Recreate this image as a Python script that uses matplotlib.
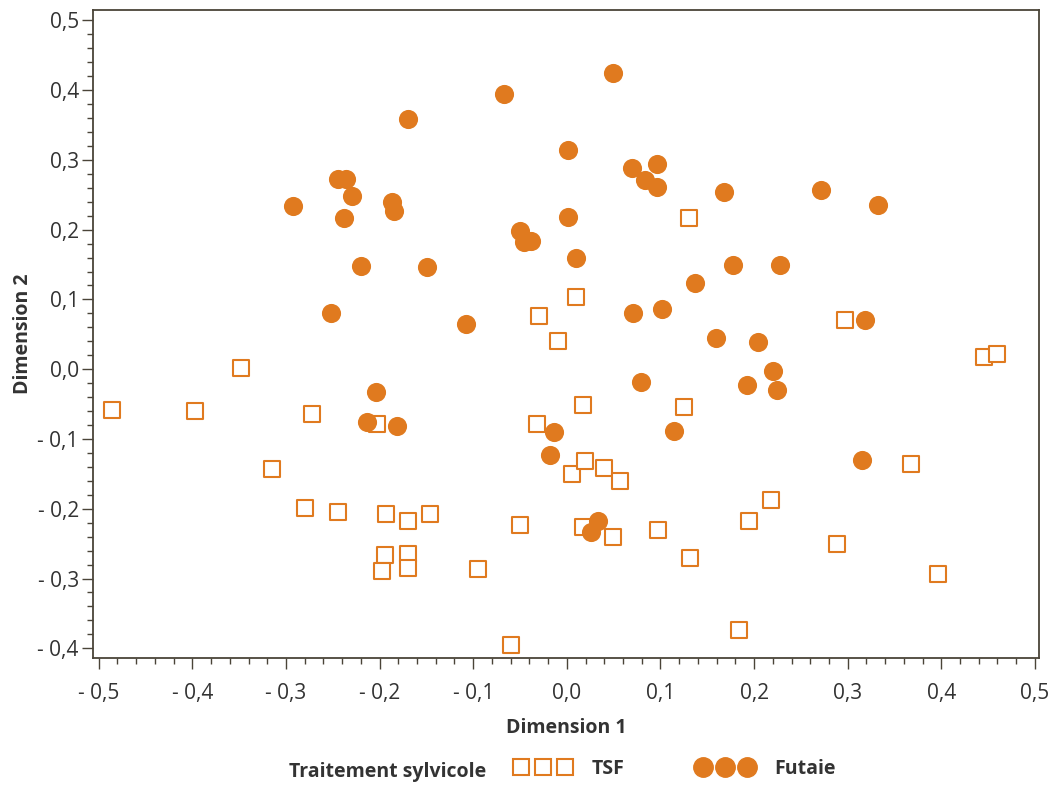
import matplotlib
matplotlib.use("Agg")
import matplotlib.pyplot as plt
from matplotlib.lines import Line2D
from matplotlib.ticker import MultipleLocator, FuncFormatter

# Futaie (filled circles)
futaie_x = [0.049, -0.067, -0.170, 0.001, 0.070, 0.096, 0.084, 0.096, 0.168, 0.272, 0.332,
            -0.244, -0.236, -0.229, -0.293, -0.187, -0.185, -0.238, 0.001, -0.050, -0.046,
            -0.038, 0.010, -0.220, -0.149, 0.178, 0.228, 0.137, -0.252, -0.108, 0.071, 0.102,
            0.318, 0.159, 0.204, -0.204, 0.079, 0.192, 0.220, 0.224, -0.213, -0.181, -0.014,
            -0.018, 0.114, 0.315, 0.033, 0.026]
futaie_y = [0.424, 0.394, 0.359, 0.314, 0.288, 0.294, 0.271, 0.261, 0.254, 0.257, 0.235,
            0.273, 0.272, 0.248, 0.234, 0.240, 0.227, 0.216, 0.218, 0.198, 0.183,
            0.184, 0.160, 0.148, 0.146, 0.149, 0.150, 0.123, 0.081, 0.065, 0.080, 0.086,
            0.071, 0.044, 0.039, -0.033, -0.018, -0.023, -0.002, -0.030, -0.075, -0.082, -0.090,
            -0.123, -0.088, -0.130, -0.217, -0.234]

# TSF (open squares)
tsf_x = [-0.486, -0.397, -0.348, -0.272, -0.203, -0.315, -0.280, -0.244, -0.193, -0.170,
         -0.194, -0.170, -0.197, -0.170, -0.146, -0.095, -0.060, -0.050, -0.030, -0.009,
         0.010, -0.032, 0.017, 0.006, 0.019, 0.040, 0.057, 0.017, 0.049, 0.097, 0.125,
         0.130, 0.132, 0.184, 0.195, 0.218, 0.289, 0.297, 0.368, 0.396, 0.446, 0.460]
tsf_y = [-0.059, -0.060, 0.002, -0.064, -0.079, -0.143, -0.199, -0.205, -0.207, -0.218,
         -0.267, -0.265, -0.289, -0.285, -0.207, -0.286, -0.395, -0.224, 0.076, 0.040,
         0.103, -0.078, -0.052, -0.150, -0.132, -0.142, -0.160, -0.226, -0.241, -0.230, -0.054,
         0.216, -0.271, -0.374, -0.217, -0.188, -0.250, 0.071, -0.136, -0.293, 0.018, 0.022]

orange = "#e07a1f"
axis_col = "#4a4438"
text_col = "#333333"

plt.rcParams["font.family"] = ["Open Sans", "DejaVu Sans"]


def fr_fmt(v, pos):
    if abs(v) < 1e-9:
        return "0,0"
    s = f"{abs(v):.1f}".replace(".", ",")
    return "- " + s if v < 0 else s


fig = plt.figure(figsize=(10.55, 7.89), dpi=100)
ax = fig.add_axes([0.0879, 0.1664, 0.8969, 0.8205])

ax.scatter(tsf_x, tsf_y, marker="s", s=135, facecolors="white", edgecolors=orange,
           linewidths=1.5, zorder=2)
ax.scatter(futaie_x, futaie_y, marker="o", s=190, color=orange, linewidths=0, zorder=3)

ax.set_xlim(-0.5064, 0.5043)
ax.set_ylim(-0.4135, 0.5143)
ax.xaxis.set_major_locator(MultipleLocator(0.1))
ax.xaxis.set_minor_locator(MultipleLocator(0.02))
ax.yaxis.set_major_locator(MultipleLocator(0.1))
ax.yaxis.set_minor_locator(MultipleLocator(0.02))
ax.xaxis.set_major_formatter(FuncFormatter(fr_fmt))
ax.yaxis.set_major_formatter(FuncFormatter(fr_fmt))

for sp in ax.spines.values():
    sp.set_color(axis_col)
    sp.set_linewidth(1.3)
ax.tick_params(which="major", length=8, width=1, color=axis_col, labelsize=15,
               labelcolor=text_col, pad=2)
ax.tick_params(which="minor", length=4, width=1, color=axis_col)
ax.tick_params(axis="x", which="major", pad=10)

ax.set_xlabel("Dimension 1", fontsize=14, fontweight="bold", color=text_col, labelpad=10)
ax.set_ylabel("Dimension 2", fontsize=14, fontweight="bold", color=text_col, labelpad=3)

# legend row
fig.text(0.274, 0.022, "Traitement sylvicole", fontsize=14, fontweight="bold",
         color=text_col, va="center")
h_sq = Line2D([], [], marker="s", linestyle="None", markersize=11.5, markerfacecolor="white",
              markeredgecolor=orange, markeredgewidth=1.5)
h_ci = Line2D([], [], marker="o", linestyle="None", markersize=14, color=orange)
fig.legend(handles=[h_sq, h_ci], labels=["TSF", "Futaie"], ncol=2, numpoints=3,
           loc="center left", bbox_to_anchor=(0.488, 0.025), frameon=False,
           borderaxespad=0, borderpad=0,
           handlelength=2.87, handletextpad=1.1, columnspacing=3.7,
           prop={"size": 14, "weight": "bold"}, labelcolor=text_col)

fig.savefig("out.png", dpi=100)
